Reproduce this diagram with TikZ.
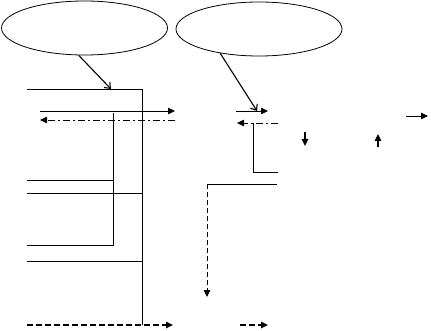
\documentclass[tikz,border=0pt]{standalone}
\usetikzlibrary{arrows.meta, shapes.geometric, positioning}

\begin{document}
\begin{tikzpicture}[
    x=1pt, y=-1pt,
    line width=0.8pt,
    >={Triangle[length=7pt,width=6.5pt]},
    bubble/.style={draw, ellipse, minimum width=166pt, minimum height=54pt, inner sep=0pt},
    feed/.style={-{Straight Barb[length=5pt,width=8pt]}, line width=1.1pt},
    dashdot/.style={dash pattern=on 7pt off 3pt on 2pt off 3pt},
    thindash/.style={dash pattern=on 5pt off 3pt},
    heavydash/.style={dash pattern=on 6pt off 3pt, line width=1.6pt},
    stub/.style={->, line width=1.4pt},
]
\useasboundingbox (0,0) rectangle (431,331);
% the two ellipses on top
\node[bubble] (ctrlA) at (84.5,28) {};
\node[bubble] (ctrlB) at (259,29) {};
% left block: outer rail, inner rail and their taps
\coordinate (inA) at (27,89);
\coordinate (tapA) at (111,89);
\coordinate (railO) at (142,89);
\coordinate (railOb) at (142,325);
\coordinate (railI) at (113,113);
\coordinate (railIb) at (113,245);
\coordinate (outI) at (27,245);
\draw[feed] (ctrlA.258) -- (tapA);
\draw (inA) -- (railO) -- (railOb);
\draw (railI) -- (railIb) -- (outI);
\foreach \y/\x in {180/113, 193/142, 261/142} {
   \draw (27,\y) -- (\x,\y);
}
\coordinate (fwdA) at (40,111);
\coordinate (fwdAe) at (175,111);
\coordinate (bckA) at (175,120);
\coordinate (bckAe) at (40,120);
\draw[->] (fwdA) -- (fwdAe);
\draw[->, dashdot] (bckA) -- (bckAe);
\coordinate (botA) at (27,325);
\coordinate (botAe) at (173,325);
\draw[->, heavydash] (botA) -- (botAe);
% right block
\coordinate (tapB) at (257,111);
\draw[feed] (ctrlB.212) -- (tapB);
\coordinate (fwdB) at (236,111);
\coordinate (fwdBe) at (268,111);
\coordinate (bckB) at (278,123);
\coordinate (bckBe) at (237,123);
\draw[->] (fwdB) -- (fwdBe);
\draw[->, dashdot] (bckB) -- (bckBe);
\coordinate (legB) at (253,123);
\coordinate (kneeB) at (253,172);
\coordinate (outB) at (278,172);
\draw (legB) -- (kneeB) -- (outB);
\coordinate (retB) at (277,184);
\coordinate (cornB) at (207,184);
\coordinate (dropB) at (207,297);
\draw (retB) -- (cornB);
\draw[->, thindash] (cornB) -- (dropB);
% small arrows on the right
\coordinate (dnA) at (305,132);
\coordinate (dnAe) at (305,146);
\coordinate (upA) at (378,147);
\coordinate (upAe) at (378,134);
\coordinate (rtA) at (406,116);
\coordinate (rtAe) at (428,116);
\draw[stub] (dnA) -- (dnAe);
\draw[stub] (upA) -- (upAe);
\draw[->] (rtA) -- (rtAe);
\coordinate (botB) at (240,325);
\coordinate (botBe) at (268,325);
\draw[->, heavydash] (botB) -- (botBe);
\end{tikzpicture}
\end{document}
